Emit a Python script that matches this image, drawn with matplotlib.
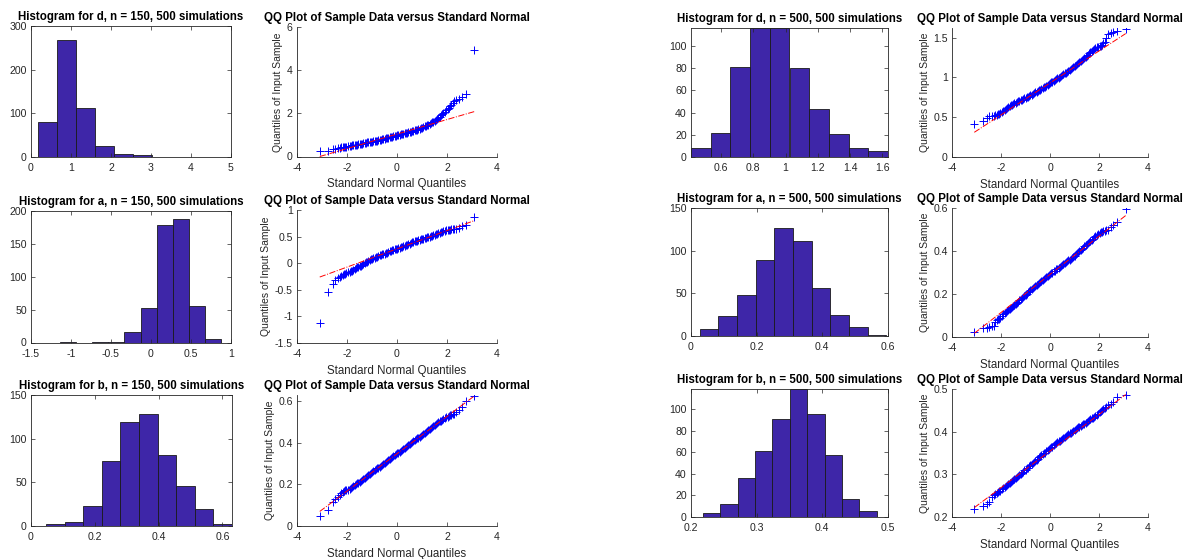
import matplotlib
matplotlib.use("Agg")
import matplotlib.pyplot as plt
import numpy as np
from matplotlib.ticker import FuncFormatter

plt.rcParams['font.family'] = ['Liberation Sans', 'DejaVu Sans']
plt.rcParams['axes.unicode_minus'] = False

# ---------------- Histogram data (10 bins each, 500 simulations) ----------------
hist_titles = ["Histogram for d, n = 150, 500 simulations",
               "Histogram for a, n = 150, 500 simulations",
               "Histogram for b, n = 150, 500 simulations",
               "Histogram for d, n = 500, 500 simulations",
               "Histogram for a, n = 500, 500 simulations",
               "Histogram for b, n = 500, 500 simulations"]
hist_lo = [0.17, -1.14, 0.047, 0.414, 0.026, 0.218]
hist_hi = [4.93, 0.88, 0.630, 1.635, 0.595, 0.483]
counts_d150 = [80, 269, 113, 26, 6, 5, 0, 0, 0, 1]
counts_a150 = [1, 0, 1, 1, 16, 53, 179, 188, 56, 5]
counts_b150 = [2, 5, 23, 75, 119, 128, 81, 46, 19, 2]
counts_d500 = [8, 22, 81, 116, 116, 80, 43, 21, 8, 5]
counts_a500 = [8, 24, 48, 89, 127, 111, 56, 25, 11, 1]
counts_b500 = [4, 12, 36, 61, 91, 119, 96, 58, 17, 6]
hist_counts = [counts_d150, counts_a150, counts_b150, counts_d500, counts_a500, counts_b500]
hist_xlim = [(0, 5), (-1.5, 1), (0, 0.63), (0.414, 1.635), (0, 0.6), (0.2, 0.5)]
hist_ylim = [(0, 300), (0, 200), (0, 150), (0, 116), (0, 150), (0, 119)]
hist_xticks = [[0, 1, 2, 3, 4, 5], [-1.5, -1, -0.5, 0, 0.5, 1], [0, 0.2, 0.4, 0.6],
               [0.6, 0.8, 1, 1.2, 1.4, 1.6], [0, 0.2, 0.4, 0.6], [0.2, 0.3, 0.4, 0.5]]
hist_yticks = [[0, 100, 200, 300], [0, 50, 100, 150, 200], [0, 50, 100, 150],
               [0, 20, 40, 60, 80, 100], [0, 50, 100, 150], [0, 20, 40, 60, 80, 100]]

# ---------------- QQ plot data ----------------
qq_title = "QQ Plot of Sample Data versus Standard Normal"
# standard normal quantiles (shared by all six QQ plots)
qq_x = [-3.09, -2.75, -2.58, -2.47, -2.37, -2.29, -2.23, -2.17, -2.12, -2.07, -2.03,
        -1.95, -1.90, -1.85, -1.80, -1.75, -1.70, -1.65, -1.60, -1.55, -1.50,
        -1.45, -1.40, -1.35, -1.30, -1.25, -1.20, -1.15, -1.10, -1.05, -1.00,
        -0.95, -0.90, -0.85, -0.80, -0.75, -0.70, -0.65, -0.60, -0.55, -0.50,
        -0.45, -0.40, -0.35, -0.30, -0.25, -0.20, -0.15, -0.10, -0.05, 0.00,
        0.05, 0.10, 0.15, 0.20, 0.25, 0.30, 0.35, 0.40, 0.45, 0.50,
        0.55, 0.60, 0.65, 0.70, 0.75, 0.80, 0.85, 0.90, 0.95, 1.00,
        1.05, 1.10, 1.15, 1.20, 1.25, 1.30, 1.35, 1.40, 1.45, 1.50,
        1.55, 1.60, 1.65, 1.70, 1.75, 1.80, 1.85, 1.90, 1.95,
        2.03, 2.07, 2.12, 2.17, 2.23, 2.29, 2.37, 2.47, 2.58, 2.75, 3.09]
qq_d150 = [0.25, 0.26, 0.33, 0.36, 0.38, 0.40, 0.42, 0.43, 0.44, 0.45, 0.46,
           0.48, 0.49, 0.50, 0.51, 0.52, 0.53, 0.54, 0.55, 0.565, 0.58,
           0.59, 0.60, 0.615, 0.63, 0.64, 0.65, 0.66, 0.67, 0.68, 0.69,
           0.705, 0.72, 0.73, 0.74, 0.755, 0.77, 0.785, 0.80, 0.815, 0.83,
           0.845, 0.86, 0.875, 0.89, 0.905, 0.92, 0.935, 0.95, 0.965, 0.98,
           0.995, 1.01, 1.025, 1.04, 1.055, 1.07, 1.085, 1.10, 1.115, 1.13,
           1.15, 1.17, 1.19, 1.21, 1.23, 1.25, 1.27, 1.29, 1.315, 1.34,
           1.365, 1.39, 1.42, 1.45, 1.48, 1.51, 1.545, 1.58, 1.62, 1.66,
           1.705, 1.75, 1.80, 1.85, 1.905, 1.96, 2.02, 2.08, 2.14,
           2.22, 2.27, 2.33, 2.40, 2.50, 2.58, 2.62, 2.68, 2.75, 2.90, 4.92]
qq_a150 = [-1.12, -0.54, -0.40, -0.31, -0.28, -0.26, -0.24, -0.22, -0.21, -0.20, -0.19,
           -0.17, -0.16, -0.15, -0.14, -0.125, -0.11, -0.095, -0.08, -0.07, -0.06,
           -0.045, -0.03, -0.015, 0.0, 0.015, 0.03, 0.045, 0.06, 0.07, 0.08,
           0.09, 0.10, 0.11, 0.12, 0.132, 0.145, 0.155, 0.165, 0.172, 0.18,
           0.19, 0.20, 0.21, 0.22, 0.23, 0.24, 0.25, 0.26, 0.268, 0.275,
           0.282, 0.29, 0.30, 0.31, 0.32, 0.33, 0.34, 0.35, 0.36, 0.37,
           0.38, 0.39, 0.40, 0.41, 0.418, 0.425, 0.432, 0.44, 0.448, 0.455,
           0.462, 0.47, 0.478, 0.485, 0.492, 0.50, 0.508, 0.515, 0.522, 0.53,
           0.54, 0.55, 0.56, 0.57, 0.58, 0.59, 0.60, 0.61, 0.615,
           0.62, 0.625, 0.63, 0.635, 0.64, 0.645, 0.65, 0.67, 0.70, 0.72, 0.87]
qq_b150 = [0.046, 0.078, 0.115, 0.128, 0.14, 0.15, 0.157, 0.162, 0.167, 0.171, 0.174,
           0.174, 0.178, 0.182, 0.186, 0.191, 0.196, 0.200, 0.205, 0.209, 0.214,
           0.218, 0.222, 0.227, 0.231, 0.236, 0.240, 0.245, 0.250, 0.254, 0.259,
           0.263, 0.268, 0.272, 0.277, 0.281, 0.286, 0.290, 0.295, 0.299, 0.304,
           0.308, 0.313, 0.317, 0.322, 0.326, 0.331, 0.335, 0.340, 0.344, 0.349,
           0.353, 0.358, 0.362, 0.367, 0.371, 0.376, 0.380, 0.385, 0.389, 0.394,
           0.398, 0.403, 0.407, 0.412, 0.416, 0.421, 0.425, 0.430, 0.434, 0.439,
           0.443, 0.448, 0.452, 0.457, 0.461, 0.466, 0.470, 0.475, 0.479, 0.484,
           0.489, 0.494, 0.498, 0.503, 0.507, 0.512, 0.516, 0.520, 0.523,
           0.526, 0.530, 0.533, 0.536, 0.538, 0.540, 0.547, 0.56, 0.573, 0.60, 0.627]
qq_d500 = [0.42, 0.45, 0.49, 0.51, 0.515, 0.52, 0.525, 0.53, 0.54, 0.545, 0.55,
           0.57, 0.58, 0.59, 0.60, 0.613, 0.625, 0.637, 0.648, 0.658, 0.667,
           0.675, 0.683, 0.69, 0.698, 0.705, 0.713, 0.72, 0.728, 0.736, 0.744,
           0.751, 0.759, 0.767, 0.775, 0.783, 0.792, 0.801, 0.81, 0.819, 0.828,
           0.837, 0.847, 0.856, 0.866, 0.875, 0.885, 0.895, 0.906, 0.916, 0.926,
           0.936, 0.946, 0.956, 0.967, 0.977, 0.987, 0.997, 1.008, 1.018, 1.028,
           1.039, 1.05, 1.061, 1.073, 1.084, 1.096, 1.108, 1.12, 1.131, 1.143,
           1.155, 1.168, 1.181, 1.194, 1.207, 1.22, 1.233, 1.246, 1.259, 1.272,
           1.286, 1.30, 1.313, 1.326, 1.34, 1.353, 1.366, 1.38, 1.385,
           1.39, 1.40, 1.41, 1.43, 1.45, 1.50, 1.54, 1.56, 1.57, 1.58, 1.61]
qq_a500 = [0.024, 0.04, 0.043, 0.048, 0.05, 0.053, 0.07, 0.078, 0.082, 0.086, 0.09,
           0.10, 0.105, 0.11, 0.115, 0.12, 0.124, 0.128, 0.133, 0.138, 0.143,
           0.148, 0.154, 0.16, 0.165, 0.17, 0.176, 0.182, 0.187, 0.192, 0.197,
           0.202, 0.207, 0.212, 0.217, 0.222, 0.227, 0.232, 0.237, 0.242, 0.247,
           0.252, 0.257, 0.262, 0.266, 0.27, 0.275, 0.28, 0.284, 0.288, 0.292,
           0.296, 0.30, 0.305, 0.309, 0.314, 0.318, 0.322, 0.326, 0.33, 0.335,
           0.339, 0.343, 0.348, 0.352, 0.356, 0.36, 0.364, 0.369, 0.374, 0.379,
           0.384, 0.39, 0.395, 0.40, 0.405, 0.41, 0.416, 0.421, 0.426, 0.432,
           0.437, 0.442, 0.447, 0.453, 0.458, 0.463, 0.468, 0.474, 0.479,
           0.484, 0.488, 0.49, 0.492, 0.494, 0.496, 0.50, 0.51, 0.52, 0.535, 0.595]
qq_b500 = [0.218, 0.226, 0.231, 0.235, 0.246, 0.252, 0.254, 0.256, 0.258, 0.26, 0.262,
           0.265, 0.268, 0.27, 0.273, 0.275, 0.278, 0.28, 0.282, 0.285, 0.287,
           0.29, 0.292, 0.294, 0.296, 0.299, 0.301, 0.304, 0.306, 0.309, 0.311,
           0.314, 0.316, 0.319, 0.321, 0.324, 0.326, 0.329, 0.332, 0.334, 0.337,
           0.34, 0.342, 0.345, 0.347, 0.349, 0.351, 0.354, 0.356, 0.359, 0.361,
           0.363, 0.365, 0.368, 0.37, 0.373, 0.375, 0.377, 0.379, 0.381, 0.383,
           0.385, 0.387, 0.39, 0.392, 0.394, 0.396, 0.398, 0.40, 0.402, 0.404,
           0.406, 0.408, 0.41, 0.412, 0.414, 0.416, 0.418, 0.419, 0.421, 0.423,
           0.425, 0.427, 0.429, 0.431, 0.433, 0.435, 0.437, 0.44, 0.442,
           0.445, 0.448, 0.45, 0.453, 0.456, 0.458, 0.462, 0.466, 0.47, 0.481, 0.486]
qq_samples = [qq_d150, qq_a150, qq_b150, qq_d500, qq_a500, qq_b500]
# reference line (through quartiles) end values at x = -3.09 and 3.09
qq_line_x = [-3.09, 3.09]
qq_line_y = [[0.0, 2.08], [-0.26, 0.80], [0.07, 0.625],
             [0.31, 1.55], [0.017, 0.565], [0.222, 0.487]]
qq_ylim = [(0, 6), (-1.5, 1), (0, 0.63), (0, 1.62), (0, 0.6), (0.2, 0.5)]
qq_yticks = [[0, 2, 4, 6], [-1.5, -1, -0.5, 0, 0.5, 1], [0, 0.2, 0.4, 0.6],
             [0, 0.5, 1, 1.5], [0, 0.2, 0.4, 0.6], [0.2, 0.3, 0.4, 0.5]]
qq_xticks = [-4, -2, 0, 2, 4]

# ---------------- layout (pixel boxes: left, top, right, bottom) ----------------
W, H = 1184, 559
hist_boxes = [(31, 26, 231, 157), (31, 211, 231, 342.5), (31, 395, 232, 526),
              (691, 28, 888, 157), (691, 208, 888, 336), (691, 389, 888, 517)]
qq_boxes = [(297, 27, 497, 156.5), (297, 210, 497, 343), (297, 395, 497, 526),
            (952, 28, 1148, 157), (952, 208, 1148, 337), (952, 389, 1148, 517)]

def rect(b):
    l, t, r, bt = b
    return [l / W, 1 - bt / H, (r - l) / W, (bt - t) / H]

AX = '#262626'
BAR = '#3E26A8'
fmt = FuncFormatter(lambda v, _: f"{v:g}")

fig = plt.figure(figsize=(W / 100, H / 100), dpi=100)

for i in range(6):
    ax = fig.add_axes(rect(hist_boxes[i]))
    edges = np.linspace(hist_lo[i], hist_hi[i], len(hist_counts[i]) + 1)
    ax.hist(edges[:-1], bins=edges, weights=hist_counts[i], color=BAR,
            edgecolor='#1a1a1a', linewidth=0.6)
    ax.set_xlim(*hist_xlim[i])
    ax.set_ylim(*hist_ylim[i])
    ax.set_xticks(hist_xticks[i])
    ax.set_yticks(hist_yticks[i])
    ax.xaxis.set_major_formatter(fmt)
    ax.yaxis.set_major_formatter(fmt)
    ax.tick_params(direction='in', length=3, width=0.5, labelsize=7.6,
                   colors=AX, top=True, right=True, pad=3)
    ax.tick_params(axis='x', pad=4.5)
    for s in ax.spines.values():
        s.set_color(AX)
        s.set_linewidth(0.6)
    ax.set_title(hist_titles[i], fontsize=8.3, fontweight='bold', pad=4.5)

for i in range(6):
    ax = fig.add_axes(rect(qq_boxes[i]))
    ax.plot(qq_x, qq_samples[i], linestyle='none', marker='+', color='#0000FF',
            markersize=5.5, markeredgewidth=0.7, zorder=2)
    ax.plot(qq_line_x, qq_line_y[i], linestyle='-.', color='#FF0000',
            linewidth=0.7, zorder=3)
    ax.set_xlim(-4, 4)
    ax.set_ylim(*qq_ylim[i])
    ax.set_xticks(qq_xticks)
    ax.set_yticks(qq_yticks[i])
    ax.xaxis.set_major_formatter(fmt)
    ax.yaxis.set_major_formatter(fmt)
    ax.tick_params(direction='in', length=3, width=0.5, labelsize=7.6,
                   colors=AX, pad=3)
    ax.tick_params(axis='x', pad=4.5)
    ax.spines['top'].set_visible(False)
    ax.spines['right'].set_visible(False)
    for s in ('left', 'bottom'):
        ax.spines[s].set_color(AX)
        ax.spines[s].set_linewidth(0.6)
    ax.set_title(qq_title, fontsize=8.3, fontweight='bold', pad=4.5)
    ax.set_xlabel("Standard Normal Quantiles", fontsize=8.3, color=AX, labelpad=4)
    ax.set_ylabel("Quantiles of Input Sample", fontsize=7.5, color=AX, labelpad=2.5)

fig.savefig("out.png", dpi=100, facecolor='white')
